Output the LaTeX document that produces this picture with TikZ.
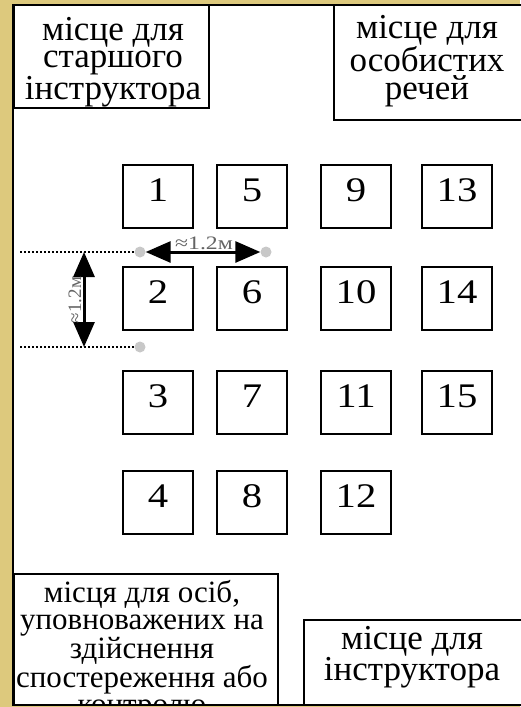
\documentclass[tikz,border=0pt]{standalone}
\usepackage{fontspec}
\setmainfont{Liberation Serif}
\newfontfamily\digitfont[FakeStretch=1.18]{Liberation Serif}
\newfontfamily\labfont[FakeStretch=1.25]{Liberation Serif}
\usetikzlibrary{arrows.meta}
\definecolor{tanbg}{RGB}{221,201,125}
\definecolor{dotgray}{RGB}{200,200,200}
\definecolor{labgray}{RGB}{100,100,100}
\begin{document}
\begin{tikzpicture}[x=1pt,y=-1pt,
  desk/.style={draw,line width=2.5pt,fill=white,minimum width=70pt,minimum height=63pt,inner sep=0pt,
    font=\digitfont\fontsize{34.5}{34.5}\selectfont,text depth=12pt},
  zone/.style={draw,line width=2.5pt,fill=white,inner sep=0pt},
  zonetext/.style={align=center,inner sep=0pt,font=\fontsize{35}{28}\selectfont},
  smallzonetext/.style={align=center,inner sep=0pt,font=\fontsize{31}{27}\selectfont},
  greydot/.style={circle,fill=dotgray,inner sep=0pt,minimum size=11pt},
  dimarrow/.style={line width=3pt,{Triangle[length=25pt,width=21pt]}-{Triangle[length=25pt,width=21pt]}},
  guide/.style={line width=2pt,dash pattern=on 2pt off 2pt},
  dimlab/.style={text=labgray,inner sep=0pt,font=\labfont\fontsize{19}{19}\selectfont},
  vdimlab/.style={text=labgray,inner sep=0pt,font=\fontsize{19}{19}\selectfont}]
\useasboundingbox (0,0) rectangle (520,707);
\fill[tanbg] (0,0) rectangle (520,707);
\fill[white] (13,5) rectangle (520,705);

% zones
\node[zone,minimum width=195pt,minimum height=103pt] (senior) at (111.5,56.5) {};
\node[zonetext] (seniortext) at (113,62) {місце для\\старшого\\інструктора};
\node[zone,minimum width=190pt,minimum height=115pt] (things) at (429,62.5) {};
\node[zonetext] (thingstext) at (427,61) {місце для\\особистих\\речей};
\node[zone,minimum width=264pt,minimum height=131pt] (observers) at (146,639.5) {};
\begin{scope}
\clip (0,0) rectangle (520,704);
\node[smallzonetext] (observerstext) at (142,651) {місця для осіб,\\уповноважених на\\здійснення\\спостереження або\\контролю};
\end{scope}
\node[zone,minimum width=218pt,minimum height=85pt] (instr) at (413,662.5) {};
\node[zonetext] (instrtext) at (412,657) {місце для\\інструктора};

% room walls
\draw[line width=2.5pt] (520,5) -- (13,5) -- (13,705) -- (520,705);

% desks
\foreach \c/\x in {0/158,1/252,2/356,3/457}{
  \foreach \r/\y in {0/196.5,1/298.5,2/402.5,3/502.5}{
    \pgfmathtruncatemacro{\n}{4*\c+\r+1}
    \ifnum\n<16
      \node[desk] (desk\n) at (\x,\y) {\n};
    \fi
  }
}

% dimensions
\coordinate (g1) at (20,252);
\coordinate (g2) at (20,347);
\coordinate (v1) at (84,252);
\coordinate (v2) at (84,347);
\node[greydot] (d1) at (140,252) {};
\node[greydot] (d2) at (266,252) {};
\node[greydot] (d3) at (140,347) {};
\draw[guide] (g1) -- (d1.west);
\draw[guide] (g2) -- (d3.west);
\draw[dimarrow] (d1) -- (d2);
\draw[dimarrow] (v1) -- (v2);
\node[dimlab] (hlab) at (204,243) {≈1.2м};
\node[vdimlab,rotate=90] (vlab) at (75,300) {≈1.2м};
\end{tikzpicture}
\end{document}
